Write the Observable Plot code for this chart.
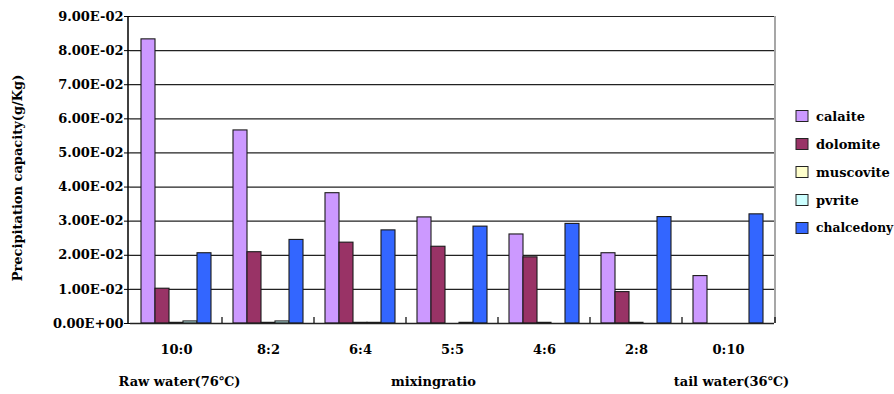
<!DOCTYPE html>
<html>
<head>
<meta charset="utf-8">
<script src="https://cdn.jsdelivr.net/npm/d3@7"></script>
<script src="https://cdn.jsdelivr.net/npm/@observablehq/plot@0.6"></script>
<style>
  html, body { margin: 0; padding: 0; background: #fff; }
  #chart { width: 894px; height: 394px; overflow: hidden; }
</style>
</head>
<body>
<div id="chart"></div>
<script>
// ---- data ----
const categories = ["10:0", "8:2", "6:4", "5:5", "4:6", "2:8", "0:10"];
const seriesNames = ["calaite", "dolomite", "muscovite", "pvrite", "chalcedony"];
const calaite    = [0.0833, 0.0566, 0.0382, 0.0311, 0.0261, 0.0206, 0.0139];
const dolomite   = [0.0102, 0.0209, 0.0237, 0.0225, 0.0194, 0.0092, 0];
const muscovite  = [0.0002, 0.0002, 0.0002, 0,      0.0002, 0.0002, 0];
const pyrite     = [0.0006, 0.0006, 0.0002, 0.0002, 0,      0,      0];
const chalcedony = [0.0206, 0.0245, 0.0273, 0.0284, 0.0292, 0.0312, 0.0320];
const yTicks = [0, 0.01, 0.02, 0.03, 0.04, 0.05, 0.06, 0.07, 0.08, 0.09];
const seriesColors = ["#CC99FF", "#993366", "#FFFFCC", "#CCFFFF", "#3366FF"];
const yLabel = "Precipitation capacity(g/Kg)";
const groupLabels = ["Raw water(76℃)", "mixingratio", "tail water(36℃)"];
const groupAt = ["10:0", "5:5", "0:10"];

// ---- build table ----
const seriesValues = [calaite, dolomite, muscovite, pyrite, chalcedony];
const rows = [];
categories.forEach((c, i) => {
  seriesNames.forEach((s, j) => {
    const v = seriesValues[j][i];
    if (v > 0) rows.push({cat: c, series: s, value: v});
  });
});

function sci(d) {
  const [m, e] = d.toExponential(2).split("e");
  return m + "E" + e[0] + e.slice(1).padStart(2, "0");
}

const W = 894, H = 394, ML = 128, MR = 119, MT = 16, MB = 71;

const plot = Plot.plot({
  width: W, height: H,
  marginLeft: ML, marginRight: MR, marginTop: MT, marginBottom: MB,
  style: {fontFamily: "'DejaVu Serif', serif", fontSize: "13px", fontWeight: "bold", color: "#000", background: "#fff", overflow: "visible"},
  fx: {domain: categories, padding: 0, axis: "bottom", label: null, tickSize: 0, tickPadding: 21},
  x: {domain: seriesNames, paddingInner: 0, paddingOuter: 0.73, axis: null},
  y: {domain: [0, 0.09], ticks: yTicks, tickFormat: sci, label: yLabel, labelAnchor: "center", labelArrow: "none", labelOffset: 118, tickSize: 6, tickPadding: 1},
  color: {domain: seriesNames, range: seriesColors},
  marks: [
    Plot.ruleY(yTicks, {stroke: "#222", strokeWidth: 1.2}),
    Plot.barY(rows, {fx: "cat", x: "series", y: "value", fill: "series", stroke: "#1a1a1a", strokeWidth: 1.1}),
    Plot.ruleY([0], {stroke: "#222", strokeWidth: 1.6}),
    Plot.text([0, 2], {fx: i => groupAt[i], text: i => groupLabels[i], frameAnchor: "bottom", dy: 62, dx: 3}),
    Plot.text([1], {fx: i => groupAt[i], text: i => groupLabels[i], frameAnchor: "bottom", dy: 62, dx: -19})
  ]
});

// ---- frame, boundary ticks and legend ----
const svg = d3.select(plot);
// move the y-axis title slightly down, as in the reference (compose with Plot's own transform)
svg.selectAll("g[aria-label='y-axis label']").each(function () {
  const t = this.getAttribute("transform") || "";
  this.setAttribute("transform", "translate(0,8) " + t);
});

const fx = plot.scale("fx");
const x0 = fx.range[0], x1 = fx.range[1];
const yBottom = H - MB;
const deco = svg.append("g");
deco.append("line").attr("x1", x1).attr("x2", x1).attr("y1", MT).attr("y2", yBottom)
  .attr("stroke", "#777").attr("stroke-width", 1.3);
deco.append("line").attr("x1", x0).attr("x2", x0).attr("y1", MT).attr("y2", yBottom)
  .attr("stroke", "#000").attr("stroke-width", 1.5);
categories.forEach((c, i) => {
  if (i === 0) return;
  const bx = fx.apply(c);
  deco.append("line").attr("x1", bx).attr("x2", bx).attr("y1", yBottom).attr("y2", yBottom - 6)
    .attr("stroke", "#000").attr("stroke-width", 1.2);
});
deco.append("line").attr("x1", x1).attr("x2", x1).attr("y1", yBottom).attr("y2", yBottom - 6)
  .attr("stroke", "#000").attr("stroke-width", 1.2);

const color = plot.scale("color");
const legend = svg.append("g")
  .attr("font-family", "'DejaVu Serif', serif").attr("font-size", 13).attr("font-weight", "bold")
  .attr("text-anchor", "start");
seriesNames.forEach((s, i) => {
  const cy = 116 + 28 * i;
  legend.append("rect").attr("x", 796).attr("y", cy - 5.5).attr("width", 12).attr("height", 11)
    .attr("fill", color.apply(s)).attr("stroke", "#222").attr("stroke-width", 1);
  legend.append("text").attr("x", 816).attr("y", cy).attr("dy", "0.35em")
    .attr("text-anchor", "start").attr("fill", "#000")
    .attr("font-size", s.length > 9 ? 12.3 : 13)
    .text(s);
});

document.getElementById("chart").appendChild(plot);
</script>
</body>
</html>
